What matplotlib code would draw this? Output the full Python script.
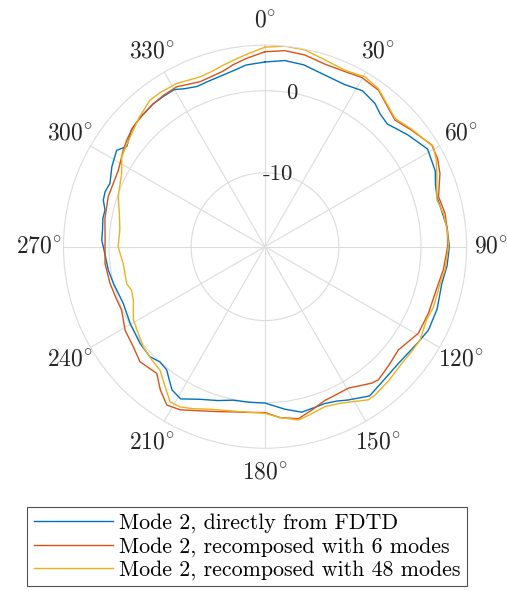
import numpy as np
import matplotlib.pyplot as plt

plt.rcParams['font.family'] = 'cmr10'
plt.rcParams['mathtext.fontset'] = 'cm'
plt.rcParams['axes.unicode_minus'] = False
plt.rcParams['axes.formatter.use_mathtext'] = True

# Mode 2, directly from FDTD (angle in deg, value in dB)
ang_fdtd = [0, 6, 12, 19, 26, 32, 37.5, 41, 45, 48, 52, 59, 66, 70, 74, 77, 84, 90,
            96, 102, 106, 110, 117, 122, 131, 137, 142.5, 145, 151.5, 155, 159, 163,
            167.5, 173, 180, 186, 191.8, 197, 203, 209, 213, 216, 218.6, 222.4, 226.3,
            232.3, 240.4, 248.2, 256.4, 261.5, 266, 270, 272.3, 276, 279.9, 282.9,
            286.1, 289, 292.2, 297.6, 303, 306, 308, 311, 316, 322, 326, 330, 333,
            337, 341, 345, 350, 354]
val_fdtd = [3.5, 3.8, 3.65, 3.15, 3.0, 3.4, 3.0, 2.4, 2.1, 2.5, 3.1, 4.1, 3.7, 3.1, 2.8,
            2.9, 3.3, 3.45, 3.3, 3.0, 3.1, 3.3, 3.35, 3.0, 2.6, 2.7, 3.0, 3.2, 2.25,
            1.75, 1.45, 1.5, 1.65, 0.95, 0.05, 0.05, 0.1, 0.6, 1.2, 2.2, 1.8, 0.9,
            0.2, 0.0, 0.4, 0.25, -0.1, -0.4, 0.0, 0.3, 0.45, 0.7, 0.9, 0.9, 1.05,
            1.0, 1.5, 1.6, 1.4, 2.05, 2.55, 1.8, 2.1, 2.6, 2.9, 3.1, 3.1, 3.1, 2.6,
            2.2, 2.3, 2.45, 2.8, 3.25]

# Mode 2, recomposed with 6 modes
ang_6 = [0, 5.8, 11.8, 18.2, 24.6, 29.7, 35.9, 41, 45.7, 51.5, 58.6, 63, 67.3, 73.9,
         79.5, 85, 90, 97.4, 102, 108.8, 112.2, 119.5, 123, 127.8, 134, 139.6, 142,
         149.5, 154, 158.7, 164, 169, 175, 180, 186, 191, 196, 201.6, 207.5, 211.8,
         216.2, 220.5, 227.4, 232.8, 239.2, 246.2, 251, 256.7, 264, 272.4, 280,
         287.7, 297.6, 304.3, 308, 312.3, 317, 322, 326, 331.1, 338.5, 342, 346.7,
         350, 354.4]
val_6 = [4.75, 5.0, 4.85, 4.4, 4.45, 4.75, 4.55, 3.7, 3.1, 3.8, 4.8, 4.6, 4.1, 3.0,
         3.3, 3.3, 3.25, 2.9, 2.6, 2.45, 2.5, 2.45, 2.0, 1.55, 1.9, 2.3, 2.1,
         1.0, 1.0, 1.1, 1.7, 2.35, 1.9, 1.2, 1.3, 1.5, 1.9, 2.5, 3.4, 3.7,
         2.6, 1.3, 1.7, 1.15, 0.85, 0.1, 0.2, 0.4, 0.6, 0.5, 0.8,
         1.05, 1.15, 1.9, 2.3, 2.7, 2.9, 3.1, 3.2, 3.25, 2.6, 2.7, 3.0,
         3.5, 4.05]

# Mode 2, recomposed with 48 modes
ang_48 = [0, 5.7, 11.5, 17.8, 24.4, 30.5, 35.6, 41, 45.4, 51.4, 59.3, 63, 66.9, 74.8,
          79.4, 85, 90, 97.4, 101.8, 109.6, 114.4, 121, 126, 130.5, 137, 143.4, 146,
          151.8, 155, 159.4, 164, 169, 175, 180, 191, 198.7, 204, 208, 211.5, 215.5,
          220.4, 225, 230.6, 240.9, 247.9, 252, 254.9, 263.3, 270, 276.6, 282.9,
          288.8, 297, 302.1, 306, 310.4, 316, 321.9, 326, 331.6, 339.1, 343,
          347.1, 351, 354.6]
val_48 = [5.3, 5.55, 5.45, 4.9, 4.6, 5.0, 4.7, 3.8, 3.25, 3.9, 4.85, 4.4, 3.75, 2.7,
          3.1, 3.3, 3.35, 3.1, 2.8, 2.8, 2.6, 3.05, 2.95, 2.9, 3.2, 3.5, 3.5,
          2.5, 2.1, 1.8, 2.1, 2.5, 1.9, 1.3, 1.4, 1.9, 2.6, 3.1, 3.15, 1.95,
          0.75, 0.5, 0.2, -0.65, -1.7, -1.9, -1.55, -1.6, -1.1, -1.2, -0.8,
          -0.1, 0.6, 1.6, 1.9, 2.3, 3.0, 3.7, 3.7, 3.6, 3.15, 3.3,
          3.7, 4.1, 4.55]

labels = ['Mode 2, directly from FDTD',
          'Mode 2, recomposed with 6 modes',
          'Mode 2, recomposed with 48 modes']
colors = ['#0072BD', '#D95319', '#EDB120']


def closed(a, v):
    a = np.deg2rad(np.append(a, a[0] + 360))
    v = np.append(v, v[0])
    return a, v


fig = plt.figure(figsize=(5.07, 5.91), dpi=100)
ax = fig.add_axes([0.1252, 0.2416, 0.795, 0.682], projection='polar')
ax.set_theta_zero_location('N')
ax.set_theta_direction(-1)

for a, v, lab, c in zip([ang_fdtd, ang_6, ang_48], [val_fdtd, val_6, val_48], labels, colors):
    t, r = closed(a, v)
    ax.plot(t, r, color=c, lw=1.0, label=lab, solid_joinstyle='round')

ax.set_rlim(-19.0, 5.55)
ax.set_rticks([-10, 0])
ax.set_yticklabels(['-10', '0'], fontsize=16.5, color='#262626')
ax.set_rlabel_position(10)
for lbl in ax.get_yticklabels():
    lbl.set_ha('center')
    lbl.set_va('center')

tg = np.arange(0, 360, 30)
ax.set_thetagrids(tg, [r'$%d^{\circ}$' % d for d in tg], fontsize=17, color='#262626')
ax.tick_params(axis='x', pad=7)
ax.grid(True, color='#dcdcdc', lw=0.8)
ax.spines['polar'].set_color('#dcdcdc')
ax.spines['polar'].set_linewidth(0.8)

leg = fig.legend(loc='upper left', bbox_to_anchor=(27 / 507, 1 - 507 / 591),
                 fontsize=15.8, frameon=True, fancybox=False, handlelength=3.6,
                 handletextpad=0.3, labelspacing=0.15, borderpad=0.3,
                 borderaxespad=0)
leg.get_frame().set_edgecolor('#262626')
leg.get_frame().set_linewidth(0.8)

fig.savefig('out.png', dpi=100)
